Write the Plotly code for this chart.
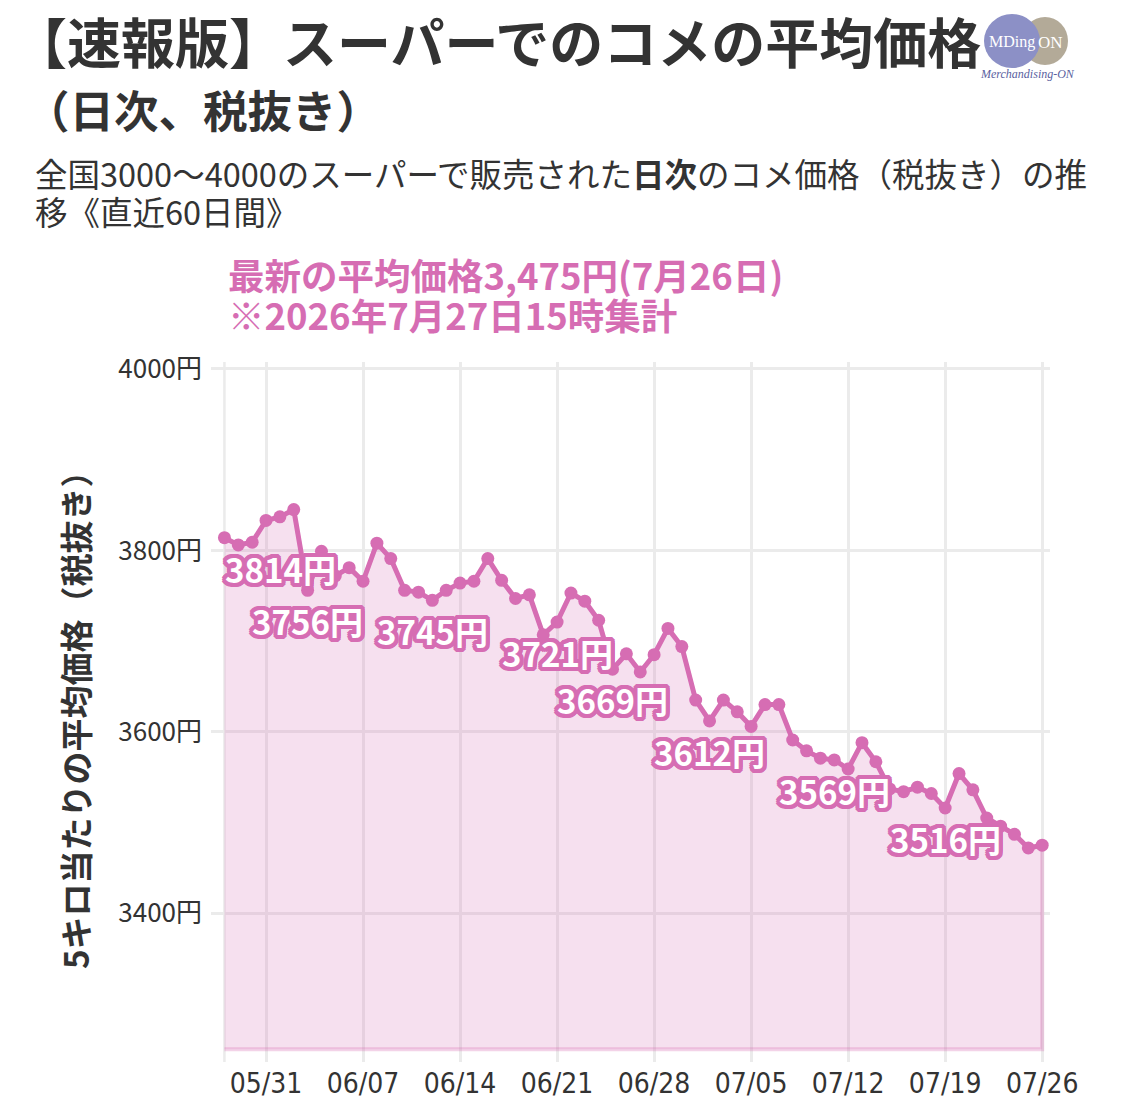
import plotly.graph_objects as go
import pandas as pd

# ---- data ----
start_date = "2026-05-28"
prices = [3814, 3806, 3809, 3833, 3837, 3845, 3756, 3799, 3772, 3781,
          3766, 3808, 3791, 3756, 3754, 3745, 3756, 3764, 3766, 3791,
          3767, 3747, 3751, 3707, 3721, 3753, 3744, 3723, 3669, 3686,
          3666, 3685, 3714, 3694, 3635, 3612, 3635, 3622, 3606, 3630,
          3630, 3591, 3579, 3571, 3569, 3559, 3588, 3567, 3537, 3534,
          3539, 3532, 3516, 3554, 3536, 3505, 3496, 3487, 3472, 3475]
dates = list(pd.date_range(start_date, periods=len(prices), freq="D"))
label_idx = [0, 6, 15, 24, 28, 35, 44, 52]
tick_dates = list(pd.date_range("2026-05-31", "2026-07-26", freq="7D"))
y_ticks = [3400, 3600, 3800, 4000]
y_tick_text = [f"{v}円" for v in y_ticks]
baseline = 3250

title1 = "【速報版】スーパーでのコメの平均価格"
title2 = "（日次、税抜き）"
sub1 = "全国3000〜4000のスーパーで販売された<b>日次</b>のコメ価格（税抜き）の推"
sub2 = "移《直近60日間》"
pink1 = "最新の平均価格3,475円(7月26日)"
pink2 = "※2026年7月27日15時集計"
ytitle = "5キロ当たりの平均価格（税抜き）"

PINK = "#D66DB3"
FILL = "rgba(214,109,179,0.21)"
JP = "Noto Sans CJK JP"

W, H = 1125, 1106
ML, MR, MT, MB = 211, 75, 362, 44
PW, PH = W - ML - MR, H - MT - MB


def px(x):
    return (x - ML) / PW


def py(y):
    return (H - MB - y) / PH


def text_at(x, y, text, size, color="#333333", family=JP, anchor="left", angle=0):
    fig.add_annotation(xref="paper", yref="paper", x=px(x), y=py(y),
                       xanchor=anchor, yanchor="middle", showarrow=False,
                       textangle=angle, text=text,
                       font=dict(family=family, size=size, color=color))


fig = go.Figure()

# area fill polygon
fig.add_trace(go.Scatter(
    x=dates + dates[::-1],
    y=prices + [baseline] * len(prices),
    fill="toself", fillcolor=FILL,
    line=dict(color="rgba(214,109,179,0.3)", width=4),
    mode="lines", hoverinfo="skip", showlegend=False))

# main line
fig.add_trace(go.Scatter(
    x=dates, y=prices, mode="lines+markers",
    line=dict(color=PINK, width=5),
    marker=dict(color=PINK, size=13),
    showlegend=False))

# outline effect for labels
offs = []
for dx in (-4, -3, -2, 0, 2, 3, 4):
    for dy in (-4, -3, -2, 0, 2, 3, 4):
        if (dx or dy) and dx * dx + dy * dy <= 20:
            offs.append(f"{dx}px {dy}px 0 {PINK}")
shadow = ", ".join(offs)

for k, i in enumerate(label_idx):
    fig.add_annotation(
        x=dates[i], y=prices[i], text=f"<b>{prices[i]}円</b>",
        showarrow=False, yshift=-31, yanchor="middle",
        xanchor="left" if k == 0 else "center",
        xshift=-1 if k == 0 else 0,
        font=dict(family=JP, size=33, color="white", shadow=shadow))

# first-date vertical gridline
fig.add_shape(type="line", x0=dates[0], x1=dates[0], y0=0, y1=1,
              xref="x", yref="paper", layer="below",
              line=dict(color="#ebebeb", width=2.5))

# titles
text_at(11, 40, f"<b>{title1}</b>", 54)
text_at(23, 108, f"<b>{title2}</b>", 44.5)
text_at(33, 172, sub1, 32.5)
text_at(33, 210, sub2, 32.5)
text_at(226, 274, f"<b>{pink1}</b>", 36.5, color=PINK)
text_at(226, 314, f"<b>{pink2}</b>", 36.5, color=PINK)
text_at(75, 712, f"<b>{ytitle}</b>", 33, anchor="center", angle=-90)

# logo
fig.add_shape(type="circle", xref="paper", yref="paper",
              x0=px(1022), x1=px(1068), y0=py(65), y1=py(17),
              fillcolor="#b3aa98", line=dict(width=0), layer="above")
fig.add_shape(type="circle", xref="paper", yref="paper",
              x0=px(984), x1=px(1040), y0=py(68), y1=py(14),
              fillcolor="#8c90c6", line=dict(width=0), layer="above")
text_at(1012, 42, "MDing", 16, color="white", family="Liberation Serif", anchor="center")
text_at(1050, 42, "ON", 17, color="white", family="Liberation Serif", anchor="center")
text_at(1027, 74, "<i>Merchandising-ON</i>", 12, color="#5a5fa0",
        family="Liberation Serif", anchor="center")

x0 = pd.Timestamp(start_date) - pd.Timedelta(days=0.97)
x1 = x0 + pd.Timedelta(days=PW / 13.86)

fig.update_layout(
    width=W, height=H,
    margin=dict(l=ML, r=MR, t=MT, b=MB, autoexpand=False),
    paper_bgcolor="white", plot_bgcolor="white",
    xaxis=dict(range=[x0, x1], tickvals=tick_dates, tickformat="%m/%d",
               showgrid=True, gridcolor="#ebebeb", gridwidth=2.5,
               zeroline=False, showline=False, ticks="", automargin=False,
               ticklabelstandoff=2,
               tickfont=dict(family="Liberation Sans Narrow, DejaVu Sans Condensed", size=28, color="#333333")),
    yaxis=dict(range=[3236, 4007.7], tickvals=y_ticks, ticktext=y_tick_text,
               showgrid=True, gridcolor="#ebebeb", gridwidth=2.5,
               zeroline=False, showline=False, ticks="", automargin=False,
               ticklabelstandoff=8,
               tickfont=dict(family=JP, size=26, color="#333333")),
)

fig.write_html("out.html")
